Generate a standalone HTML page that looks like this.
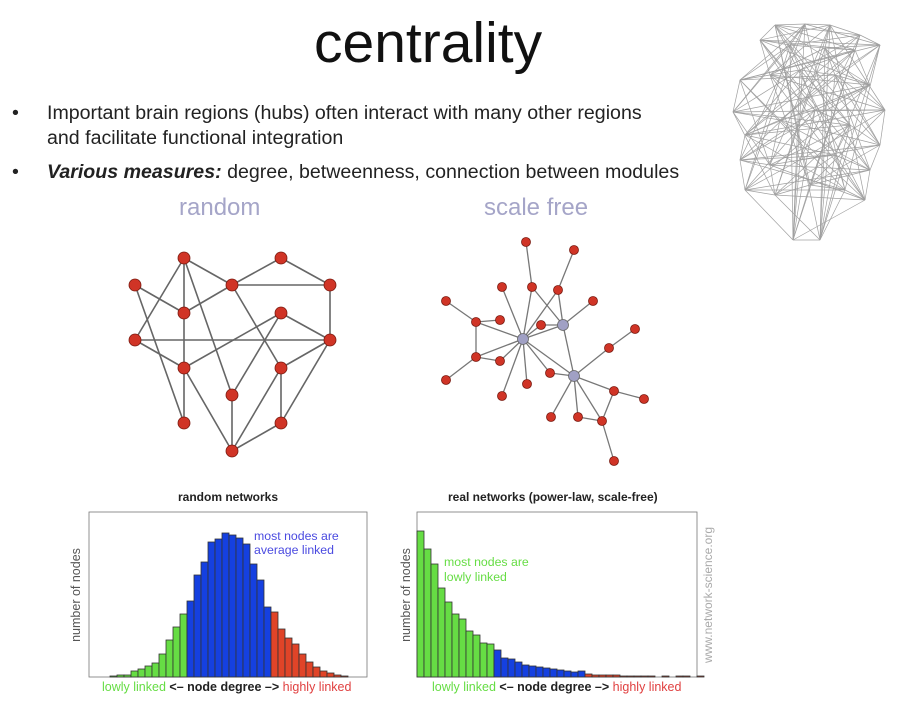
<!DOCTYPE html>
<html><head><meta charset="utf-8"><style>
body{margin:0;background:#fff;width:905px;height:707px;overflow:hidden;position:relative;font-family:"Liberation Sans",sans-serif}
.t{position:absolute;white-space:nowrap}
</style></head><body>
<div class="t" style="left:314px;top:10px;font-size:57px;color:#111">centrality</div>
<div class="t" style="left:12px;top:101px;font-size:19.6px;line-height:25px;color:#222">•<span style="position:absolute;left:35px">Important brain regions (hubs) often interact with many other regions<br>and facilitate functional integration</span></div>
<div class="t" style="left:12px;top:160px;font-size:19.6px;line-height:25px;color:#222">•<span style="position:absolute;left:35px"><b><i>Various measures:</i></b> degree, betweenness, connection between modules</span></div>
<div class="t" style="left:179px;top:194px;font-size:24px;color:#a5a5c8">random</div>
<div class="t" style="left:484px;top:194px;font-size:24px;color:#a5a5c8">scale free</div>

<svg id="net" width="905" height="707" style="position:absolute;left:0;top:0"></svg>

<script>
// Random network
const rNodes=[[184,258],[281,258],[135,285],[232,285],[330,285],[184,313],[281,313],[135,340],[330,340],[184,368],[281,368],[232,395],[184,423],[281,423],[232,451]];
const rEdges=[[0,3],[0,5],[0,7],[0,11],[1,3],[1,4],[2,5],[2,12],[3,4],[3,5],[3,10],[4,8],[6,8],[6,9],[6,11],[7,8],[7,9],[5,9],[9,12],[9,14],[8,10],[8,13],[10,13],[10,14],[11,14],[13,14]];
// Scale-free network
const sNodes=[[523,339],[563,325],[574,376],[526,242],[574,250],[502,287],[532,287],[558,290],[446,301],[593,301],[476,322],[500,320],[541,325],[635,329],[609,348],[476,357],[500,361],[446,380],[550,373],[527,384],[502,396],[614,391],[644,399],[551,417],[578,417],[602,421],[614,461]];
const sHubs=[0,1,2];
const sEdges=[[3,6],[6,0],[6,1],[4,7],[7,0],[7,1],[5,0],[8,10],[10,11],[10,0],[10,15],[12,1],[12,0],[9,1],[0,1],[1,2],[0,2],[0,15],[0,16],[15,16],[15,17],[0,18],[18,2],[0,19],[0,20],[14,2],[13,14],[2,21],[21,22],[21,25],[2,23],[2,24],[2,25],[24,25],[25,26]];
// Brain mesh points
const bPts=[[775,25],[805,24],[830,25],[860,35],[880,45],[760,40],[790,45],[825,48],[855,50],[740,80],[770,75],[800,70],[835,75],[870,85],[733,112],[885,110],[745,135],[780,120],[815,110],[850,125],[880,145],[740,160],[770,165],[800,160],[835,155],[870,170],[745,190],[775,195],[810,185],[845,190],[865,200],[793,240],[820,240]];
const NS="http://www.w3.org/2000/svg";
const svg=document.getElementById('net');
function line(a,b,col,w){const l=document.createElementNS(NS,'line');l.setAttribute('x1',a[0]);l.setAttribute('y1',a[1]);l.setAttribute('x2',b[0]);l.setAttribute('y2',b[1]);l.setAttribute('stroke',col);l.setAttribute('stroke-width',w);svg.appendChild(l);return l;}
for(let i=0;i<bPts.length;i++)for(let k of [1,3,5,8,13]){const j=(i+k)%bPts.length;const l=line(bPts[i],bPts[j],'#a0a0a0',0.7);

}
rEdges.forEach(e=>{const l=line(rNodes[e[0]],rNodes[e[1]],'#666',1.6);

});
sEdges.forEach(e=>{const l=line(sNodes[e[0]],sNodes[e[1]],'#777',1.3);

});
function dot(p,r,fill){const c=document.createElementNS(NS,'circle');c.setAttribute('cx',p[0]);c.setAttribute('cy',p[1]);c.setAttribute('r',r);c.setAttribute('fill',fill);c.setAttribute('stroke','#7a1a10');c.setAttribute('stroke-width',0.8);svg.appendChild(c);return c;}
rNodes.forEach(p=>{const c=dot(p,6,'#d03426');

});
sNodes.forEach((p,i)=>{const h=sHubs.includes(i);const c=dot(p,h?5.5:4.5,h?'#a0a0c4':'#d03426');if(h)c.setAttribute('stroke','#666');

});
</script>

<svg id="hist" width="905" height="707" style="position:absolute;left:0;top:0"></svg>
<script>
// Random network degree distribution (relative heights in px of 165 plot height)
const randGreen=[1,2,2,6,8,11,14,23,37,50,63];
const randBlue=[76,102,115,135,138,144,142,139,133,113,97,70];
const randRed=[65,48,39,33,23,15,10,6,4,2,1];
// Power-law distribution
const plGreen=[146,128,113,89,75,63,58,46,42,34,33];
const plBlue=[27,19,18,15,12,11,10,9,8,7,6,5,6];
const plRed=[3,2,2,2,2,1,1,1,1,1,0,1,0,1,1,0,1];
const H=document.getElementById('hist');
function rect(x,y,w,h,fill,stroke,name){const r=document.createElementNS("http://www.w3.org/2000/svg",'rect');r.setAttribute('x',x);r.setAttribute('y',y);r.setAttribute('width',w);r.setAttribute('height',h);r.setAttribute('fill',fill);if(stroke){r.setAttribute('stroke',stroke);r.setAttribute('stroke-width',0.8);}H.appendChild(r);return r;}
function plot(x0,startX,groups,name){
  const base=677,bw=7;
  let x=startX;
  const colors=['#66dd44','#1540e0','#e04428'];
  groups.forEach((g,gi)=>g.forEach(v=>{
    const b=rect(x,base-v,bw,v,colors[gi],'#333');
    
    
    x+=bw;}));
}
const f1=rect(89,512,278,165,'none','#777');


const f2=rect(417,512,280,165,'none','#777');


plot(89,110,[randGreen,randBlue,randRed],'random');
plot(417,417,[plGreen,plBlue,plRed],'powerlaw');
</script>

<div class="t" style="left:178px;top:490px;font-size:12px;font-weight:bold;color:#222">random networks</div>
<div class="t" style="left:448px;top:490px;font-size:12px;font-weight:bold;color:#222">real networks (power-law, scale-free)</div>
<div class="t" style="left:28px;top:588px;font-size:12.5px;color:#555;transform:rotate(-90deg);transform-origin:center;width:96px;text-align:center">number of nodes</div>
<div class="t" style="left:358px;top:588px;font-size:12.5px;color:#555;transform:rotate(-90deg);transform-origin:center;width:96px;text-align:center">number of nodes</div>
<div class="t" style="left:254px;top:529px;font-size:12.3px;line-height:14px;color:#4a4ae0">most nodes are<br>average linked</div>
<div class="t" style="left:444px;top:555px;font-size:12.3px;line-height:15px;color:#66dd44">most nodes are<br>lowly linked</div>
<div class="t" style="left:102px;top:680px;font-size:12.5px"><span style="color:#66dd44">lowly linked</span> <b style="color:#222">&lt;– node degree –&gt;</b> <span style="color:#e04040">highly linked</span></div>
<div class="t" style="left:432px;top:680px;font-size:12.5px"><span style="color:#66dd44">lowly linked</span> <b style="color:#222">&lt;– node degree –&gt;</b> <span style="color:#e04040">highly linked</span></div>
<div class="t" style="left:633px;top:588px;width:150px;text-align:center;font-size:12px;color:#aaa;transform:rotate(-90deg);transform-origin:center">www.network-science.org</div>
</body></html>
